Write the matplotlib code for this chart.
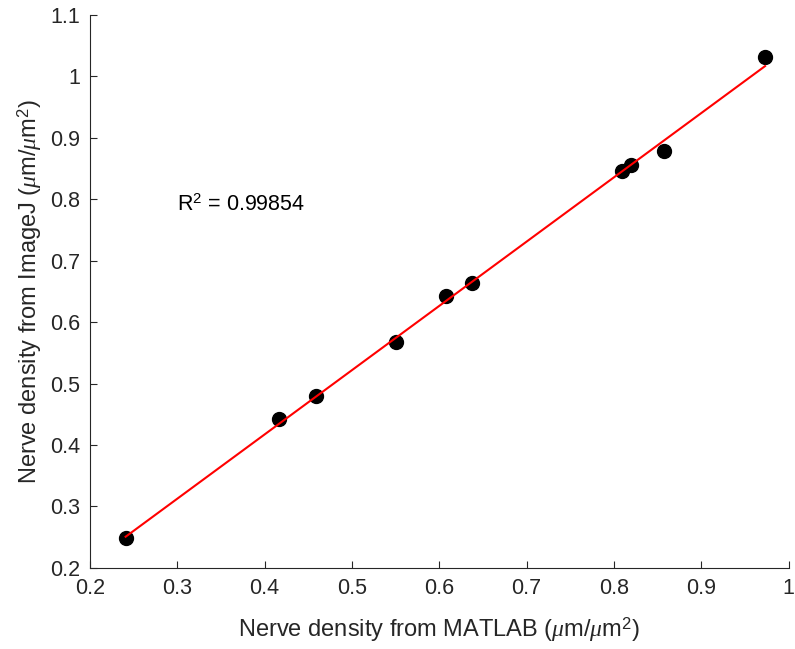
import numpy as np
import matplotlib.pyplot as plt

plt.rcParams['font.family'] = ['Liberation Sans', 'DejaVu Sans']
plt.rcParams['mathtext.fontset'] = 'custom'
plt.rcParams['mathtext.rm'] = 'Liberation Sans'
plt.rcParams['mathtext.it'] = 'Liberation Serif:italic'

# densities
matlab = [0.241, 0.416, 0.459, 0.551, 0.608, 0.638, 0.809, 0.820, 0.857, 0.973]
imagej = [0.249, 0.443, 0.479, 0.567, 0.642, 0.663, 0.846, 0.855, 0.878, 1.031]
r2_text = 'R$^2$ = 0.99854'

x, y = np.array(matlab), np.array(imagej)
b, a = np.polyfit(x, y, 1)

fig = plt.figure(figsize=(7.95, 6.49), dpi=100)
ax = fig.add_axes([0.113, 0.125, 0.879, 0.852])

ax.plot(x, y, marker='o', color='k', ls='', markersize=10)
xs = np.array([x.min(), x.max()])
ax.plot(xs, a + b*xs, color='r', lw=1.5)

ax.text(0.3, 0.79, r2_text, fontsize=15.5, color='k', va='center', ha='left')

ax.set_xlim(0.2, 1)
ax.set_ylim(0.2, 1.1)
ax.set_xticks(np.arange(0.2, 1.01, 0.1))
ax.set_xticklabels(['0.2', '0.3', '0.4', '0.5', '0.6', '0.7', '0.8', '0.9', '1'])
ax.set_yticks(np.arange(0.2, 1.11, 0.1))
ax.set_yticklabels(['0.2', '0.3', '0.4', '0.5', '0.6', '0.7', '0.8', '0.9', '1', '1.1'])

for s in ['top', 'right']:
    ax.spines[s].set_visible(False)
for s in ['left', 'bottom']:
    ax.spines[s].set_color('#262626')
    ax.spines[s].set_linewidth(0.8)
ax.tick_params(direction='in', length=5, colors='#262626', labelsize=15.5, pad=7)

ax.set_xlabel(r'Nerve density from MATLAB ($\mu$m/$\mu$m$^2$)', fontsize=17, color='#262626', labelpad=12)
ax.set_ylabel(r'Nerve density from ImageJ ($\mu$m/$\mu$m$^2$)', fontsize=17, color='#262626', labelpad=4)

plt.savefig('out.png', dpi=100)
